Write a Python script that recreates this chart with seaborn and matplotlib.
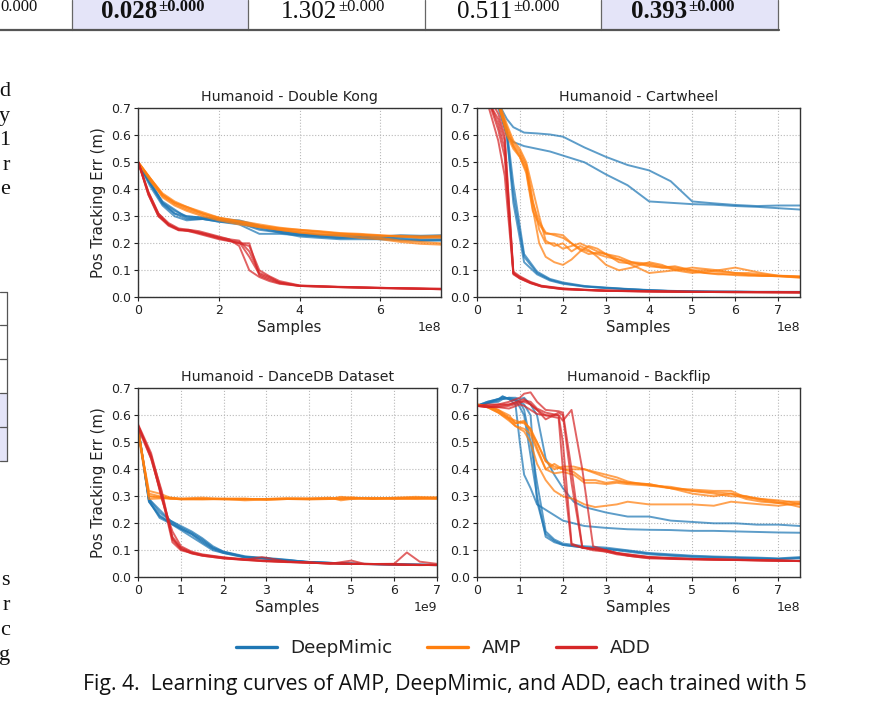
import numpy as np
import pandas as pd
import matplotlib
matplotlib.use("Agg")
import matplotlib.pyplot as plt
import seaborn as sns
from matplotlib.lines import Line2D
from matplotlib.patches import Rectangle
from matplotlib import font_manager

# ---------------- data ----------------
methods = ["DeepMimic", "AMP", "ADD"]
method_colors = ["#1f77b4", "#ff7f0e", "#d62728"]
titles = ["Humanoid - Double Kong", "Humanoid - Cartwheel",
          "Humanoid - DanceDB Dataset", "Humanoid - Backflip"]
x_scales = [1e8, 1e8, 1e9, 1e8]
x_limits = [7.5, 7.5, 7.0, 7.5]
x_ticks = [[0, 2, 4, 6], [0, 1, 2, 3, 4, 5, 6, 7], [0, 1, 2, 3, 4, 5, 6, 7], [0, 1, 2, 3, 4, 5, 6, 7]]
y_ticks = [0.0, 0.1, 0.2, 0.3, 0.4, 0.5, 0.6, 0.7]

# Double Kong
dk_x_dm = [0, 0.3, 0.6, 0.9, 1.2, 1.6, 2.0, 2.5, 3.0, 3.5, 4.0, 4.5, 5.0, 5.5, 6.0, 6.5, 7.0, 7.5]
dk_dm = [
    [0.495, 0.42, 0.35, 0.32, 0.30, 0.295, 0.29, 0.275, 0.255, 0.24, 0.23, 0.225, 0.22, 0.222, 0.218, 0.22, 0.215, 0.215],
    [0.495, 0.42, 0.345, 0.31, 0.29, 0.29, 0.285, 0.28, 0.26, 0.245, 0.235, 0.23, 0.225, 0.225, 0.22, 0.225, 0.225, 0.225],
    [0.495, 0.41, 0.34, 0.30, 0.285, 0.29, 0.28, 0.27, 0.235, 0.235, 0.23, 0.225, 0.22, 0.22, 0.215, 0.215, 0.21, 0.21],
    [0.495, 0.43, 0.35, 0.31, 0.30, 0.295, 0.29, 0.285, 0.265, 0.245, 0.235, 0.23, 0.23, 0.228, 0.225, 0.23, 0.228, 0.23],
    [0.495, 0.42, 0.355, 0.325, 0.295, 0.29, 0.28, 0.275, 0.25, 0.24, 0.225, 0.22, 0.215, 0.215, 0.215, 0.212, 0.21, 0.212],
]
dk_x_amp = dk_x_dm
dk_amp = [
    [0.5, 0.44, 0.38, 0.35, 0.33, 0.31, 0.295, 0.28, 0.265, 0.255, 0.245, 0.24, 0.235, 0.232, 0.228, 0.225, 0.222, 0.22],
    [0.5, 0.43, 0.375, 0.345, 0.325, 0.305, 0.29, 0.275, 0.26, 0.25, 0.24, 0.235, 0.23, 0.228, 0.22, 0.21, 0.205, 0.2],
    [0.5, 0.44, 0.38, 0.35, 0.335, 0.31, 0.29, 0.28, 0.265, 0.255, 0.25, 0.245, 0.238, 0.235, 0.23, 0.225, 0.22, 0.225],
    [0.5, 0.435, 0.37, 0.34, 0.32, 0.30, 0.285, 0.27, 0.26, 0.25, 0.24, 0.232, 0.228, 0.22, 0.215, 0.205, 0.198, 0.195],
    [0.5, 0.44, 0.385, 0.355, 0.335, 0.315, 0.295, 0.283, 0.27, 0.258, 0.25, 0.243, 0.236, 0.232, 0.228, 0.228, 0.226, 0.228],
]
dk_x_add = [0, 0.25, 0.5, 0.75, 1.0, 1.25, 1.5, 1.75, 2.0, 2.25, 2.5, 2.75, 3.0, 3.25, 3.5, 4.0, 5.0, 6.0, 7.5]
dk_add = [
    [0.5, 0.39, 0.31, 0.275, 0.255, 0.25, 0.245, 0.235, 0.225, 0.215, 0.19, 0.10, 0.075, 0.06, 0.05, 0.042, 0.038, 0.035, 0.03],
    [0.5, 0.38, 0.30, 0.27, 0.25, 0.25, 0.24, 0.23, 0.22, 0.21, 0.20, 0.20, 0.08, 0.065, 0.052, 0.042, 0.038, 0.034, 0.03],
    [0.5, 0.385, 0.305, 0.27, 0.252, 0.245, 0.24, 0.232, 0.222, 0.215, 0.21, 0.17, 0.09, 0.075, 0.055, 0.043, 0.037, 0.034, 0.03],
    [0.5, 0.39, 0.31, 0.268, 0.25, 0.248, 0.238, 0.228, 0.218, 0.21, 0.205, 0.15, 0.085, 0.07, 0.055, 0.042, 0.038, 0.035, 0.031],
    [0.5, 0.38, 0.30, 0.265, 0.248, 0.245, 0.235, 0.225, 0.215, 0.208, 0.20, 0.19, 0.10, 0.078, 0.06, 0.044, 0.039, 0.035, 0.032],
]

# Cartwheel
cw_x_dm = [0, 0.3, 0.5, 0.7, 0.85, 1.1, 1.4, 1.7, 2.0, 2.5, 3.0, 3.5, 4.0, 4.5, 5.0, 5.5, 6.0, 6.5, 7.0, 7.5]
cw_dm = [
    [0.9, 0.8, 0.72, 0.6, 0.38, 0.15, 0.09, 0.065, 0.052, 0.04, 0.035, 0.03, 0.026, 0.023, 0.022, 0.021, 0.021, 0.02, 0.02, 0.02],
    [0.9, 0.8, 0.73, 0.62, 0.42, 0.16, 0.095, 0.068, 0.055, 0.042, 0.036, 0.031, 0.027, 0.024, 0.022, 0.021, 0.021, 0.02, 0.02, 0.02],
    [0.9, 0.8, 0.72, 0.6, 0.35, 0.13, 0.085, 0.062, 0.05, 0.04, 0.034, 0.03, 0.026, 0.023, 0.022, 0.021, 0.02, 0.02, 0.02, 0.019],
    [0.9, 0.8, 0.72, 0.66, 0.63, 0.61, 0.607, 0.603, 0.595, 0.555, 0.52, 0.49, 0.47, 0.43, 0.355, 0.348, 0.342, 0.338, 0.34, 0.34],
    [0.9, 0.8, 0.7, 0.6, 0.575, 0.56, 0.55, 0.54, 0.525, 0.5, 0.455, 0.415, 0.355, 0.35, 0.345, 0.343, 0.338, 0.335, 0.33, 0.325],
]
cw_x_amp = [0, 0.3, 0.5, 0.7, 0.85, 1.0, 1.15, 1.3, 1.45, 1.6, 1.8, 2.0, 2.2, 2.4, 2.6, 2.8, 3.0, 3.3, 3.6, 4.0,
            4.3, 4.6, 5.0, 5.3, 5.6, 6.0, 6.3, 6.6, 7.0, 7.5]
cw_amp = [
    [0.95, 0.8, 0.72, 0.62, 0.56, 0.53, 0.48, 0.35, 0.28, 0.24, 0.23, 0.22, 0.2, 0.18, 0.17, 0.16, 0.15, 0.14, 0.13, 0.125,
     0.115, 0.11, 0.1, 0.1, 0.095, 0.09, 0.09, 0.085, 0.08, 0.078],
    [0.95, 0.8, 0.73, 0.64, 0.58, 0.55, 0.5, 0.4, 0.3, 0.21, 0.19, 0.2, 0.17, 0.19, 0.175, 0.15, 0.12, 0.1, 0.11, 0.13,
     0.12, 0.1, 0.09, 0.095, 0.1, 0.09, 0.085, 0.08, 0.078, 0.075],
    [0.95, 0.8, 0.72, 0.6, 0.55, 0.52, 0.47, 0.33, 0.2, 0.15, 0.13, 0.12, 0.14, 0.17, 0.19, 0.18, 0.16, 0.14, 0.12, 0.09,
     0.095, 0.1, 0.11, 0.105, 0.1, 0.11, 0.1, 0.09, 0.08, 0.075],
    [0.95, 0.8, 0.71, 0.61, 0.56, 0.52, 0.46, 0.32, 0.27, 0.235, 0.235, 0.23, 0.2, 0.175, 0.16, 0.165, 0.16, 0.15, 0.13, 0.115,
     0.11, 0.105, 0.095, 0.09, 0.085, 0.085, 0.082, 0.08, 0.078, 0.076],
    [0.95, 0.8, 0.72, 0.63, 0.57, 0.54, 0.49, 0.36, 0.25, 0.2, 0.2, 0.18, 0.19, 0.2, 0.185, 0.17, 0.16, 0.13, 0.125, 0.12,
     0.11, 0.115, 0.1, 0.09, 0.088, 0.082, 0.08, 0.08, 0.079, 0.072],
]
cw_x_add = [0, 0.25, 0.5, 0.65, 0.85, 1.0, 1.25, 1.5, 2.0, 2.5, 3.0, 4.0, 5.0, 6.0, 7.5]
cw_add = [
    [0.85, 0.74, 0.62, 0.52, 0.09, 0.075, 0.055, 0.042, 0.032, 0.028, 0.025, 0.022, 0.02, 0.02, 0.018],
    [0.85, 0.72, 0.58, 0.45, 0.085, 0.07, 0.052, 0.04, 0.03, 0.027, 0.024, 0.022, 0.02, 0.019, 0.018],
    [0.85, 0.73, 0.66, 0.58, 0.095, 0.078, 0.057, 0.043, 0.033, 0.028, 0.025, 0.023, 0.021, 0.02, 0.019],
    [0.85, 0.75, 0.68, 0.60, 0.09, 0.072, 0.054, 0.041, 0.031, 0.027, 0.024, 0.022, 0.02, 0.019, 0.018],
    [0.85, 0.74, 0.64, 0.55, 0.088, 0.07, 0.053, 0.04, 0.03, 0.027, 0.024, 0.021, 0.02, 0.019, 0.018],
]

# DanceDB
db_x_dm = [0, 0.25, 0.5, 0.75, 1.0, 1.25, 1.5, 1.75, 2.0, 2.5, 3.0, 3.5, 4.0, 5.0, 6.0, 7.0]
db_dm = [
    [0.55, 0.29, 0.25, 0.21, 0.185, 0.165, 0.14, 0.11, 0.095, 0.075, 0.068, 0.062, 0.056, 0.05, 0.048, 0.045],
    [0.55, 0.28, 0.23, 0.2, 0.18, 0.16, 0.13, 0.105, 0.09, 0.075, 0.07, 0.063, 0.057, 0.05, 0.047, 0.045],
    [0.55, 0.285, 0.22, 0.2, 0.175, 0.15, 0.125, 0.1, 0.09, 0.073, 0.072, 0.065, 0.055, 0.05, 0.048, 0.046],
    [0.55, 0.29, 0.24, 0.21, 0.19, 0.17, 0.145, 0.115, 0.095, 0.078, 0.07, 0.06, 0.056, 0.051, 0.047, 0.046],
    [0.55, 0.28, 0.225, 0.205, 0.18, 0.16, 0.135, 0.108, 0.092, 0.076, 0.069, 0.064, 0.057, 0.05, 0.048, 0.046],
]
db_x_amp = [0, 0.25, 0.5, 0.75, 1.0, 1.5, 2.0, 2.5, 3.0, 3.5, 4.0, 4.5, 4.75, 5.0, 5.5, 6.0, 6.5, 7.0]
db_amp = [
    [0.54, 0.3, 0.295, 0.29, 0.29, 0.29, 0.29, 0.288, 0.29, 0.292, 0.29, 0.292, 0.295, 0.293, 0.294, 0.293, 0.295, 0.293],
    [0.53, 0.32, 0.31, 0.295, 0.292, 0.295, 0.29, 0.285, 0.288, 0.29, 0.292, 0.295, 0.285, 0.29, 0.292, 0.29, 0.292, 0.29],
    [0.54, 0.31, 0.3, 0.293, 0.288, 0.29, 0.292, 0.29, 0.29, 0.29, 0.288, 0.29, 0.298, 0.295, 0.29, 0.295, 0.298, 0.296],
    [0.53, 0.29, 0.292, 0.295, 0.29, 0.288, 0.29, 0.292, 0.286, 0.29, 0.29, 0.293, 0.29, 0.29, 0.293, 0.292, 0.29, 0.292],
    [0.55, 0.3, 0.298, 0.292, 0.29, 0.292, 0.288, 0.29, 0.29, 0.293, 0.292, 0.29, 0.29, 0.296, 0.29, 0.292, 0.293, 0.295],
]
db_x_add = [0, 0.3, 0.55, 0.8, 1.0, 1.25, 1.5, 2.0, 2.5, 2.9, 3.5, 4.0, 4.5, 5.0, 5.3, 6.0, 6.3, 6.6, 7.0]
db_add = [
    [0.56, 0.45, 0.32, 0.14, 0.105, 0.09, 0.082, 0.072, 0.065, 0.06, 0.057, 0.054, 0.052, 0.05, 0.05, 0.048, 0.047, 0.046, 0.045],
    [0.56, 0.44, 0.3, 0.13, 0.1, 0.09, 0.08, 0.07, 0.065, 0.075, 0.058, 0.055, 0.05, 0.062, 0.05, 0.048, 0.046, 0.045, 0.046],
    [0.565, 0.46, 0.31, 0.15, 0.11, 0.092, 0.083, 0.073, 0.067, 0.062, 0.058, 0.055, 0.052, 0.05, 0.049, 0.05, 0.092, 0.058, 0.05],
    [0.56, 0.45, 0.29, 0.17, 0.115, 0.095, 0.085, 0.074, 0.066, 0.062, 0.057, 0.054, 0.051, 0.05, 0.049, 0.047, 0.046, 0.046, 0.045],
    [0.55, 0.44, 0.3, 0.145, 0.105, 0.088, 0.08, 0.07, 0.064, 0.06, 0.056, 0.054, 0.051, 0.05, 0.049, 0.048, 0.047, 0.046, 0.046],
]

# Backflip
bf_x_dm = [0, 0.25, 0.5, 0.6, 0.75, 0.9, 1.0, 1.1, 1.25, 1.4, 1.6, 1.8, 2.0, 2.25, 2.5, 3.0, 3.5, 4.0, 4.5, 5.0,
           5.5, 6.0, 6.5, 7.0, 7.5]
bf_dm = [
    [0.635, 0.645, 0.655, 0.67, 0.66, 0.64, 0.5, 0.38, 0.33, 0.27, 0.25, 0.23, 0.21, 0.2, 0.19, 0.183, 0.178, 0.176, 0.175, 0.172,
     0.172, 0.17, 0.168, 0.166, 0.165],
    [0.635, 0.65, 0.66, 0.665, 0.66, 0.655, 0.63, 0.6, 0.45, 0.3, 0.15, 0.13, 0.12, 0.115, 0.11, 0.105, 0.095, 0.085, 0.08, 0.075,
     0.073, 0.072, 0.07, 0.068, 0.07],
    [0.635, 0.65, 0.66, 0.66, 0.665, 0.66, 0.65, 0.62, 0.5, 0.35, 0.17, 0.14, 0.125, 0.12, 0.115, 0.11, 0.1, 0.09, 0.085, 0.08,
     0.077, 0.075, 0.073, 0.07, 0.075],
    [0.635, 0.645, 0.65, 0.66, 0.665, 0.665, 0.66, 0.665, 0.64, 0.6, 0.44, 0.38, 0.33, 0.28, 0.26, 0.24, 0.225, 0.225, 0.21, 0.205,
     0.2, 0.2, 0.195, 0.195, 0.19],
    [0.635, 0.645, 0.66, 0.67, 0.66, 0.655, 0.65, 0.64, 0.6, 0.28, 0.16, 0.135, 0.12, 0.115, 0.11, 0.105, 0.098, 0.088, 0.082, 0.078,
     0.075, 0.072, 0.07, 0.068, 0.072],
]
bf_x_amp = [0, 0.25, 0.5, 0.75, 0.9, 1.1, 1.25, 1.4, 1.6, 1.8, 2.0, 2.25, 2.5, 2.75, 3.0, 3.25, 3.5, 4.0, 4.5, 5.0,
            5.5, 5.9, 6.25, 6.6, 7.0, 7.25, 7.5]
bf_amp = [
    [0.64, 0.635, 0.62, 0.6, 0.57, 0.58, 0.54, 0.5, 0.43, 0.4, 0.41, 0.41, 0.4, 0.39, 0.38, 0.37, 0.355, 0.34, 0.33, 0.32,
     0.315, 0.31, 0.3, 0.29, 0.285, 0.28, 0.27],
    [0.64, 0.63, 0.61, 0.585, 0.56, 0.55, 0.53, 0.47, 0.4, 0.42, 0.4, 0.39, 0.36, 0.36, 0.35, 0.355, 0.35, 0.345, 0.33, 0.31,
     0.3, 0.31, 0.29, 0.28, 0.275, 0.28, 0.28],
    [0.64, 0.635, 0.62, 0.59, 0.58, 0.57, 0.55, 0.5, 0.43, 0.41, 0.4, 0.4, 0.4, 0.385, 0.37, 0.36, 0.35, 0.345, 0.33, 0.325,
     0.32, 0.32, 0.295, 0.29, 0.28, 0.27, 0.26],
    [0.64, 0.63, 0.61, 0.58, 0.56, 0.54, 0.5, 0.42, 0.36, 0.32, 0.3, 0.29, 0.27, 0.26, 0.265, 0.27, 0.28, 0.27, 0.27, 0.27,
     0.265, 0.28, 0.275, 0.27, 0.265, 0.27, 0.27],
    [0.64, 0.632, 0.615, 0.59, 0.57, 0.575, 0.55, 0.48, 0.4, 0.385, 0.39, 0.38, 0.35, 0.35, 0.345, 0.35, 0.345, 0.34, 0.335, 0.32,
     0.31, 0.3, 0.3, 0.285, 0.275, 0.27, 0.275],
]
bf_x_add = [0, 0.25, 0.5, 0.75, 1.0, 1.1, 1.25, 1.4, 1.6, 1.9, 2.0, 2.2, 2.45, 2.7, 3.0, 3.25, 3.5, 3.75, 4.0, 4.5,
            5.0, 5.5, 6.0, 6.5, 7.0, 7.5]
bf_add = [
    [0.635, 0.63, 0.63, 0.625, 0.64, 0.635, 0.62, 0.605, 0.6, 0.59, 0.4, 0.12, 0.11, 0.105, 0.1, 0.09, 0.085, 0.08, 0.075, 0.072,
     0.068, 0.067, 0.065, 0.064, 0.062, 0.06],
    [0.635, 0.64, 0.64, 0.65, 0.665, 0.68, 0.685, 0.65, 0.62, 0.615, 0.61, 0.4, 0.11, 0.105, 0.095, 0.085, 0.08, 0.075, 0.072, 0.07,
     0.068, 0.066, 0.065, 0.064, 0.062, 0.06],
    [0.635, 0.635, 0.64, 0.64, 0.65, 0.65, 0.64, 0.62, 0.6, 0.6, 0.58, 0.62, 0.4, 0.115, 0.1, 0.09, 0.08, 0.075, 0.07, 0.068,
     0.066, 0.065, 0.064, 0.062, 0.061, 0.06],
    [0.635, 0.63, 0.635, 0.64, 0.655, 0.66, 0.64, 0.62, 0.585, 0.61, 0.6, 0.35, 0.11, 0.105, 0.1, 0.09, 0.085, 0.08, 0.075, 0.07,
     0.067, 0.066, 0.065, 0.063, 0.062, 0.061],
    [0.635, 0.632, 0.63, 0.635, 0.645, 0.655, 0.65, 0.625, 0.61, 0.6, 0.5, 0.125, 0.11, 0.1, 0.095, 0.088, 0.082, 0.078, 0.074, 0.07,
     0.068, 0.066, 0.064, 0.063, 0.062, 0.06],
]

panels = [
    [(dk_x_dm, dk_dm), (dk_x_amp, dk_amp), (dk_x_add, dk_add)],
    [(cw_x_dm, cw_dm), (cw_x_amp, cw_amp), (cw_x_add, cw_add)],
    [(db_x_dm, db_dm), (db_x_amp, db_amp), (db_x_add, db_add)],
    [(bf_x_dm, bf_dm), (bf_x_amp, bf_amp), (bf_x_add, bf_add)],
]

# top table fragment / page text
table_values = ["0.028", "1.302", "0.511", "0.393"]
table_bold = [True, False, False, True]
table_sup = "\u00b10.000"
table_left_fragment = "0.000"
caption = "Fig. 4.  Learning curves of AMP, DeepMimic, and ADD, each trained with 5"
margin_chars_top = ["d", "y", "1", "r", "e"]
margin_chars_bottom = ["s", "r", "c", "g"]

# ---------------- figure ----------------
sns.set_style("ticks")
plt.rcParams["font.family"] = ["DejaVu Sans"]
W, H = 891, 708
fig = plt.figure(figsize=(W / 100, H / 100), dpi=100)


def rect(l, t, r, b):
    return [l / W, 1 - b / H, (r - l) / W, (b - t) / H]


def fx(x):
    return x / W


def fy(y):
    return 1 - y / H


axes_rects = [rect(138.3, 108.3, 441, 297.3), rect(476.7, 108.3, 800, 297.3),
              rect(138.3, 388.3, 436.7, 577.3), rect(476.7, 388.3, 800, 577.3)]
palette = dict(zip(methods, method_colors))
text_col = "#222222"

for i, (pos, series) in enumerate(zip(axes_rects, panels)):
    ax = fig.add_axes(pos)
    rows = []
    for m, (xs, runs) in zip(methods, series):
        for r, ys in enumerate(runs):
            for xv, yv in zip(xs, ys):
                rows.append({"x": xv * x_scales[i], "y": yv, "method": m, "run": f"{m}{r}"})
    df = pd.DataFrame(rows)
    sns.lineplot(data=df, x="x", y="y", hue="method", units="run", estimator=None,
                 hue_order=methods, palette=palette, linewidth=1.4, alpha=0.72,
                 legend=False, sort=False, ax=ax)
    ax.set_xlim(0, x_limits[i] * x_scales[i])
    ax.set_ylim(0, 0.7)
    ax.set_xticks([t * x_scales[i] for t in x_ticks[i]])
    ax.set_yticks(y_ticks)
    ax.grid(True, linestyle=":", color="#b8b8b8", linewidth=0.8)
    ax.set_axisbelow(True)
    ax.set_title(titles[i], fontsize=10.2, color=text_col, pad=5)
    ax.set_xlabel("Samples", fontsize=10.8, color=text_col, labelpad=2)
    if i in (0, 2):
        ax.set_ylabel("Pos Tracking Err (m)", fontsize=10.8, color=text_col, labelpad=4)
    else:
        ax.set_ylabel("")
    ax.tick_params(axis="both", labelsize=9, colors=text_col, length=3, width=0.8, pad=2)
    ax.xaxis.get_offset_text().set_fontsize(9)
    for s in ax.spines.values():
        s.set_linewidth(1.0)
        s.set_color("#333333")

# legend
handles = [Line2D([0], [0], color=c, lw=2.4) for c in method_colors]
fig.legend(handles, methods, loc="center", bbox_to_anchor=(fx(443.5), fy(648)), ncol=3,
           frameon=False, fontsize=13.2, handlelength=2.2, handletextpad=0.75,
           columnspacing=1.9, labelcolor=text_col)

# caption
names = {f.name for f in font_manager.fontManager.ttflist}
cap_font = "Liberation Sans Narrow" if "Liberation Sans Narrow" in names else "Open Sans"
cap = fig.text(fx(83), fy(690), caption, family=cap_font, fontsize=15, color="#111111",
               va="baseline", ha="left")
fig.canvas.draw()
renderer = fig.canvas.get_renderer()
w = cap.get_window_extent(renderer).width
cap.set_fontsize(15 * 722 / w)

# top table fragment
lav = "#e4e4f8"
col_edges = [72, 248, 425, 601, 778]
for j in range(4):
    if table_bold[j]:
        fig.patches.append(Rectangle((fx(col_edges[j]), fy(30)), (col_edges[j + 1] - col_edges[j]) / W, 30 / H,
                                     transform=fig.transFigure, facecolor=lav, edgecolor="none", zorder=0))
for xe in col_edges:
    fig.add_artist(Line2D([fx(xe), fx(xe)], [fy(0), fy(30)], color="#666666", lw=0.9))
fig.add_artist(Line2D([0, fx(779)], [fy(30), fy(30)], color="#555555", lw=1.6))
num_starts = [101, 281, 457, 631]
main_texts = []
for j, v in enumerate(table_values):
    t = fig.text(fx(num_starts[j]), fy(18), v, family="Liberation Serif", fontsize=18,
                 fontweight="bold" if table_bold[j] else "normal", va="baseline", ha="left", color="#111111")
    main_texts.append(t)
fig.canvas.draw()
for j, t in enumerate(main_texts):
    bb = t.get_window_extent(renderer)
    fig.text(bb.x1 / W + fx(1), fy(11), table_sup, family="Liberation Serif", fontsize=12,
             fontweight="bold" if table_bold[j] else "normal", va="baseline", ha="left", color="#111111")
fig.text(fx(38), fy(11), table_left_fragment, family="Liberation Serif", fontsize=12, va="baseline",
         ha="right", color="#111111")

# left margin fragments
for k, ch in enumerate(margin_chars_top):
    fig.text(fx(10), fy(96 + 24.5 * k), ch, family="Liberation Serif", fontsize=16, va="baseline", ha="right",
             color="#111111")
for k, ch in enumerate(margin_chars_bottom):
    fig.text(fx(10), fy(585 + 25 * k), ch, family="Liberation Serif", fontsize=16, va="baseline", ha="right",
             color="#111111")
row_lines = [292, 325, 359, 393, 427, 461]
fig.patches.append(Rectangle((0, fy(461)), fx(7), (461 - 393) / H, transform=fig.transFigure,
                             facecolor=lav, edgecolor="none", zorder=0))
for yl in row_lines:
    fig.add_artist(Line2D([0, fx(7)], [fy(yl), fy(yl)], color="#555555", lw=0.9))
fig.add_artist(Line2D([fx(7), fx(7)], [fy(292), fy(461)], color="#555555", lw=0.9))

fig.savefig("out.png", dpi=100)
